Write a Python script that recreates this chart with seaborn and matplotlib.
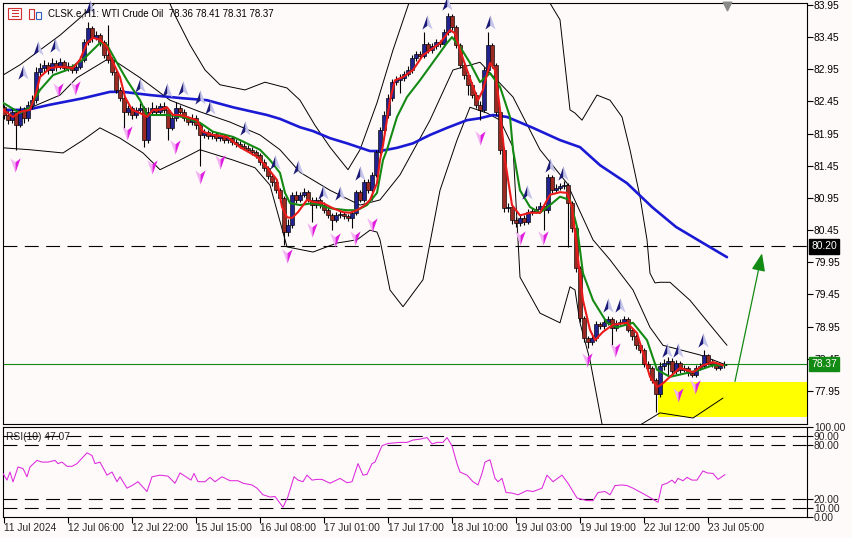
import numpy as np
import pandas as pd
import matplotlib
matplotlib.use("Agg")
import matplotlib.pyplot as plt
import matplotlib.transforms as mtransforms
from matplotlib.patches import Rectangle
from matplotlib.path import Path
import seaborn as sns

sns.set_theme(style="white")
plt.rcParams["font.family"] = ["Liberation Sans", "DejaVu Sans"]

# ---------------- data ----------------
title = "CLSK.e,H1: WTI Crude Oil  78.36 78.41 78.31 78.37"

bar_open = [82.36, 82.24, 82.16, 82.29, 82.08, 82.32, 82.19, 82.40, 82.47, 82.91,
            82.97, 83.02, 82.94, 83.05, 82.99, 83.06, 82.97, 83.00, 82.94, 82.99,
            83.10, 83.37, 83.59, 83.44, 83.48, 83.37, 83.17, 83.10, 82.91, 82.63,
            82.50, 82.29, 82.35, 82.24, 82.32, 82.35, 81.85, 82.29, 82.35, 82.29,
            82.38, 82.32, 82.04, 82.19, 82.35, 82.29, 82.19, 82.13, 82.19, 82.08,
            81.93, 81.98, 81.91, 81.94, 81.88, 81.91, 81.85, 81.88, 81.82, 81.79,
            81.76, 81.73, 81.70, 81.66, 81.62, 81.51, 81.42, 81.29, 81.20, 81.07,
            80.95, 80.42, 80.53, 81.00, 80.92, 81.00, 81.04, 80.92, 80.84, 80.92,
            80.84, 80.76, 80.68, 80.61, 80.68, 80.70, 80.67, 80.64, 80.72, 81.04,
            80.92, 81.20, 81.07, 81.31, 81.66, 82.01, 82.24, 82.50, 82.75, 82.78,
            82.82, 82.88, 82.94, 83.13, 83.19, 83.16, 83.34, 83.25, 83.31, 83.37,
            83.34, 83.53, 83.78, 83.61, 83.33, 83.02, 82.86, 82.71, 82.55, 82.40,
            82.32, 82.94, 83.33, 83.02, 82.29, 81.70, 80.79, 80.81, 80.61, 80.56,
            80.64, 80.58, 80.73, 80.75, 80.78, 80.83, 80.76, 81.28, 81.07, 81.11,
            81.14, 81.15, 80.87, 80.48, 79.86, 79.08, 78.77, 78.71, 78.77, 78.99,
            78.96, 79.02, 79.07, 78.93, 79.01, 79.02, 79.07, 78.90, 78.80, 78.66,
            78.59, 78.37, 78.31, 78.12, 77.90, 78.34, 78.38, 78.42, 78.26, 78.38,
            78.28, 78.31, 78.23, 78.20, 78.31, 78.34, 78.51, 78.40, 78.37, 78.31,
            78.36]
bar_high = [82.40, 82.30, 82.35, 82.33, 82.38, 82.36, 82.45, 82.55, 82.98, 83.05,
            83.10, 83.06, 83.12, 83.09, 83.12, 83.10, 83.06, 83.04, 83.04, 83.15,
            83.42, 83.69, 83.62, 83.54, 83.51, 83.40, 83.64, 83.14, 82.95, 82.68,
            82.54, 82.40, 82.38, 82.37, 82.42, 82.38, 82.36, 82.44, 82.40, 82.43,
            82.44, 82.35, 82.24, 82.44, 82.40, 82.33, 82.23, 82.25, 82.24, 82.12,
            82.03, 82.01, 81.99, 81.98, 81.95, 81.94, 81.92, 81.91, 81.86, 81.83,
            81.80, 81.77, 81.74, 81.70, 81.65, 81.55, 81.45, 81.33, 81.24, 81.10,
            80.98, 80.62, 81.05, 81.06, 81.05, 81.10, 81.07, 80.96, 80.97, 80.95,
            80.88, 80.80, 80.72, 80.73, 80.75, 80.74, 80.70, 80.77, 81.08, 81.08,
            81.24, 81.24, 81.36, 81.70, 82.06, 82.30, 82.56, 82.80, 82.85, 82.88,
            82.93, 83.00, 83.18, 83.24, 83.24, 83.53, 83.38, 83.36, 83.42, 83.41,
            83.58, 83.83, 83.81, 83.64, 83.36, 83.06, 82.90, 82.75, 82.59, 82.45,
            82.98, 83.53, 83.36, 83.05, 82.32, 81.74, 80.87, 80.84, 80.65, 80.69,
            80.68, 80.78, 80.80, 80.83, 80.88, 80.86, 81.33, 81.31, 81.16, 81.19,
            81.21, 81.18, 80.90, 80.51, 79.89, 79.11, 78.81, 78.82, 79.04, 79.03,
            79.07, 79.12, 79.10, 79.06, 79.07, 79.12, 79.10, 78.93, 78.83, 78.70,
            78.62, 78.41, 78.34, 78.15, 78.40, 78.45, 78.48, 78.46, 78.43, 78.41,
            78.36, 78.34, 78.26, 78.35, 78.39, 78.59, 78.53, 78.44, 78.40, 78.39,
            78.41]
bar_low = [82.18, 82.10, 82.12, 81.70, 82.05, 82.12, 82.15, 82.33, 82.42, 82.85,
           82.90, 82.88, 82.90, 82.93, 82.95, 82.92, 82.92, 82.89, 82.90, 82.96,
           83.06, 83.33, 83.38, 83.40, 83.32, 83.12, 83.05, 82.86, 82.58, 82.45,
           82.01, 82.24, 82.18, 82.20, 82.27, 81.75, 81.80, 82.25, 82.24, 82.25,
           82.27, 81.85, 82.00, 82.15, 82.24, 82.15, 82.08, 82.09, 82.03, 81.45,
           81.88, 81.86, 81.87, 81.84, 81.84, 81.80, 81.81, 81.78, 81.75, 81.72,
           81.69, 81.66, 81.62, 81.57, 81.46, 81.37, 81.24, 81.14, 81.02, 80.88,
           80.22, 80.36, 80.48, 80.87, 80.88, 80.96, 80.88, 80.58, 80.80, 80.80,
           80.72, 80.64, 80.45, 80.57, 80.64, 80.62, 80.59, 80.48, 80.68, 80.88,
           80.88, 81.02, 80.92, 81.27, 81.62, 81.96, 82.20, 82.46, 82.70, 82.58,
           82.77, 82.84, 82.90, 83.08, 83.11, 83.12, 83.20, 83.21, 83.27, 83.29,
           83.30, 83.49, 83.56, 83.28, 82.97, 82.80, 82.55, 82.50, 82.35, 82.16,
           82.28, 82.90, 82.97, 82.24, 81.64, 80.74, 80.74, 80.55, 80.50, 80.52,
           80.53, 80.55, 80.69, 80.71, 80.74, 80.45, 80.72, 81.02, 81.03, 81.07,
           81.09, 80.19, 80.42, 79.80, 79.02, 78.71, 78.62, 78.66, 78.73, 78.91,
           78.92, 78.98, 78.66, 78.89, 78.97, 78.98, 78.86, 78.75, 78.61, 78.54,
           78.32, 78.26, 78.07, 77.62, 77.86, 78.28, 78.20, 78.21, 78.22, 78.23,
           78.24, 78.19, 78.16, 78.17, 78.27, 78.30, 78.36, 78.33, 78.27, 78.28,
           78.31]
bar_close = [82.24, 82.16, 82.29, 82.08, 82.32, 82.19, 82.40, 82.47, 82.91, 82.97,
             83.02, 82.94, 83.05, 82.99, 83.06, 82.97, 83.00, 82.94, 82.99, 83.10,
             83.37, 83.59, 83.44, 83.48, 83.37, 83.17, 83.10, 82.91, 82.63, 82.50,
             82.29, 82.35, 82.24, 82.32, 82.35, 81.85, 82.29, 82.35, 82.29, 82.38,
             82.32, 82.04, 82.19, 82.35, 82.29, 82.19, 82.13, 82.19, 82.08, 81.93,
             81.98, 81.91, 81.94, 81.88, 81.91, 81.85, 81.88, 81.82, 81.79, 81.76,
             81.73, 81.70, 81.66, 81.62, 81.51, 81.42, 81.29, 81.20, 81.07, 80.95,
             80.42, 80.53, 81.00, 80.92, 81.00, 81.04, 80.92, 80.84, 80.92, 80.84,
             80.76, 80.68, 80.61, 80.68, 80.70, 80.67, 80.64, 80.72, 81.04, 80.92,
             81.20, 81.07, 81.31, 81.66, 82.01, 82.24, 82.50, 82.75, 82.78, 82.82,
             82.88, 82.94, 83.13, 83.19, 83.16, 83.34, 83.25, 83.31, 83.37, 83.34,
             83.53, 83.78, 83.61, 83.33, 83.02, 82.86, 82.71, 82.55, 82.40, 82.32,
             82.94, 83.33, 83.02, 82.29, 81.70, 80.79, 80.81, 80.61, 80.56, 80.64,
             80.58, 80.73, 80.75, 80.78, 80.83, 80.76, 81.28, 81.07, 81.11, 81.14,
             81.15, 80.87, 80.48, 79.86, 79.08, 78.77, 78.71, 78.77, 78.99, 78.96,
             79.02, 79.07, 78.93, 79.01, 79.02, 79.07, 78.90, 78.80, 78.66, 78.59,
             78.37, 78.31, 78.12, 77.90, 78.34, 78.38, 78.42, 78.26, 78.38, 78.28,
             78.31, 78.23, 78.20, 78.31, 78.34, 78.51, 78.40, 78.37, 78.31, 78.34,
             78.37]

# fast (red) moving average, sampled along the bars
fast_ma_bar = [-0.25, 2.25, 4, 6.5, 8, 9, 11.5, 14, 17.25, 19, 20.75, 22.25, 24, 25.75, 27.25,
               29, 30.25, 32, 34, 35.75, 37.25, 39, 40.75, 42.25, 44, 45.75, 48.25, 49.75,
               52.25, 55.75, 59, 63.25, 65.75, 68.25, 69.5, 70.75, 72, 73.5, 75.75, 77.25,
               79.75, 82.25, 84.75, 86.5, 88.25, 90.25, 91.5, 93.25, 94, 94.75, 96.5, 97.75,
               99.75, 102.25, 104.75, 107.25, 109, 111.5, 112.75, 114, 115.75, 117.25,
               118.5, 119.75, 121.5, 122.75, 124, 125.25, 127, 129, 131.5, 134, 136.5,
               139, 140.75, 142, 143.25, 144.75, 146.5, 147.75, 149.75, 152.25, 155.75,
               158.25, 159.75, 161.5, 163.25, 164.75, 166.5, 169, 172.25, 174.75, 177.25,
               179.75]
fast_ma_val = [82.32, 82.21, 82.29, 82.32, 82.58, 82.83, 82.97, 82.99, 82.97, 83.10, 83.36,
               83.44, 83.41, 83.30, 83.06, 82.83, 82.52, 82.32, 82.27, 82.21, 82.32, 82.32,
               82.36, 82.24, 82.24, 82.21, 82.16, 81.98, 81.93, 81.90, 81.74, 81.59, 81.43,
               81.23, 80.81, 80.65, 80.64, 80.73, 80.92, 80.89, 80.87, 80.79, 80.73, 80.72,
               80.76, 80.84, 80.92, 81.18, 81.54, 81.77, 82.47, 82.78, 82.83, 82.94, 83.17,
               83.28, 83.36, 83.56, 83.51, 83.25, 82.94, 82.68, 82.47, 82.63, 83.05, 82.94,
               82.32, 81.54, 80.84, 80.68, 80.72, 80.72, 81.00, 81.04, 81.03, 80.81, 80.14,
               79.36, 78.90, 78.74, 78.87, 78.98, 79.01, 78.85, 78.54, 78.17, 78.01, 78.07,
               78.17, 78.31, 78.24, 78.35, 78.40, 78.35]

# slow (green) moving average
slow_ma_bar = [-0.25, 4, 6.5, 9, 12.25, 15.75, 19.75, 24, 25.75, 28.25, 30.75, 34, 35.75,
               40.75, 44.75, 49, 52.25, 57.25, 59, 64, 66.5, 69, 70.25, 71.5, 74, 77.25,
               81.5, 85.75, 88.25, 90.75, 93.25, 94.75, 95.75, 98.25, 100.75, 104, 107.25,
               110.75, 112, 114, 116.5, 119, 121.5, 124, 126.5, 127.25, 129, 131.5, 134,
               136.5, 139, 141.5, 143.25, 144.75, 147.25, 150.75, 153.25, 157.25, 160.75,
               163.25, 166.5, 170.75, 174, 177.25, 180.25]
slow_ma_val = [82.43, 82.27, 82.36, 82.63, 82.86, 82.94, 83.10, 83.36, 83.33, 83.05, 82.78,
               82.47, 82.24, 82.24, 82.21, 82.12, 81.98, 81.90, 81.85, 81.70, 81.54, 81.34,
               81.03, 80.87, 80.84, 80.87, 80.79, 80.76, 80.76, 80.84, 81.03, 81.54, 81.70,
               82.21, 82.52, 82.78, 83.06, 83.36, 83.45, 83.30, 83.05, 82.75, 82.89, 82.68,
               82.21, 81.70, 81.07, 80.81, 80.72, 80.84, 80.97, 80.92, 80.50, 79.78, 79.36,
               79.01, 78.94, 79.01, 78.74, 78.28, 78.17, 78.23, 78.28, 78.35, 78.35]

# long (blue) moving average
long_ma_bar = [-0.25, 5.75, 11.5, 19.75, 26.5, 29.75, 36.5, 44.75, 50.75, 57.25, 65.75, 69,
               74, 77.25, 81.5, 85.75, 91.5, 94, 98.25, 102.25, 106.5, 110.75, 115.75, 119,
               122.25, 125.75, 132.25, 139, 144, 149, 155.75, 162, 168, 174.75, 180.75]
long_ma_val = [82.32, 82.32, 82.40, 82.50, 82.60, 82.60, 82.55, 82.50, 82.47, 82.36, 82.24,
               82.18, 82.05, 81.99, 81.88, 81.80, 81.68, 81.68, 81.73, 81.80, 81.93, 82.04,
               82.16, 82.19, 82.24, 82.21, 82.04, 81.85, 81.74, 81.46, 81.18, 80.81, 80.50,
               80.25, 80.03]

# Bollinger bands (upper / middle / lower)
bb_up_bar = [-0.25, 4, 9, 14, 19, 22.75, 24.5, 31.5, 40.25, 42.75, 46.5, 50.25, 54, 60.25,
             65.25, 70.75, 74, 77.75, 81.5, 86, 89, 93.25, 97.25, 101.5, 106.5, 124, 134,
             136, 139, 141.5, 142.75, 144.5, 148.25, 151.5, 154.5, 156.5, 159, 160.75,
             161.5, 162.75, 164, 166.5, 171.5, 176.5, 180.75]
bb_up_val = [82.86, 83.02, 83.25, 83.48, 83.75, 83.98, 84.15, 84.50, 84.15, 83.79, 83.33,
             82.94, 82.71, 82.63, 82.75, 82.66, 82.47, 82.08, 81.74, 81.39, 81.70, 82.43,
             83.25, 84.03, 84.65, 84.97, 84.18, 84.03, 83.72, 82.32, 82.27, 82.16, 82.55,
             82.47, 82.21, 81.70, 80.97, 80.30, 79.78, 79.63, 79.64, 79.64, 79.36, 78.98,
             78.66]
bb_mid_bar = [-0.25, 6.5, 14, 18.25, 26.5, 34, 41.5, 49, 56.5, 64, 69, 74, 81.5, 89, 94, 99,
              106.5, 112.25, 119, 127.25, 134, 140.75, 147.25, 151.5, 157.25, 161.5,
              164.75, 174, 180.75]
bb_mid_val = [82.29, 82.35, 82.55, 82.82, 83.13, 82.82, 82.47, 82.29, 82.13, 81.93, 81.70,
              81.35, 81.07, 80.84, 80.92, 81.31, 82.16, 82.94, 83.06, 82.52, 81.70, 81.18,
              80.30, 79.99, 79.52, 78.94, 78.66, 78.51, 78.35]
bb_low_bar = [-0.25, 6.5, 14.75, 19.75, 24, 29, 34.75, 39, 44, 49, 57.25, 62.75, 66.5, 70.75,
              77.25, 83.25, 88.25, 91.5, 93.25, 94, 96.5, 99.75, 104.75, 109, 113.25, 116.5,
              120.75, 124, 127.25, 129, 134, 139, 141.5, 142.75, 144, 146.5, 150.25, 157.75,
              159, 164, 172.25, 179.75]
bb_low_val = [81.73, 81.70, 81.65, 81.85, 82.04, 81.88, 81.65, 81.39, 81.54, 81.70, 81.54,
              81.42, 81.15, 80.19, 80.11, 80.25, 80.30, 80.45, 80.42, 80.30, 79.52, 79.26,
              79.68, 81.07, 81.85, 82.36, 82.27, 82.16, 81.74, 79.72, 79.16, 79.01, 79.57,
              79.52, 79.01, 78.43, 77.19, 77.19, 77.42, 77.61, 77.53, 77.84]

# fractal arrows
up_arrow_bar = [4.75, 8.5, 12.75, 21.5, 34, 40.75, 44.75, 49, 51.5, 60.25, 67.75, 73.5, 79.75,
                84, 89, 105.75, 110.75, 121.5, 130.75, 136.5, 139.75, 151, 154, 165.75,
                168.5, 174.75]
up_arrow_val = [82.91, 83.28, 83.33, 83.92, 82.71, 82.63, 82.66, 82.52, 82.36, 82.04, 81.51,
                81.43, 81.04, 81.03, 81.34, 83.69, 83.98, 83.69, 81.04, 81.46, 81.34, 79.29,
                79.29, 78.59, 78.59, 78.74]
down_arrow_bar = [2.75, 13.5, 17.75, 30.75, 37, 42.75, 49, 54, 70.75, 77, 82.75, 87.75, 92,
                  119, 129, 134.75, 145.75, 152.75, 168.5, 172.75]
down_arrow_val = [81.46, 82.63, 82.66, 81.96, 81.43, 81.74, 81.28, 81.51, 80.05, 80.45, 80.30,
                  80.33, 80.53, 81.88, 80.33, 80.33, 78.43, 78.59, 77.89, 78.01]

# RSI(10)
rsi_bar = [-0.25, 0.75, 1.5, 2.25, 3.5, 4.75, 5.75, 6.5, 8.25, 9.5, 11, 12.75, 13.5, 14.5,
           15.75, 17, 18.25, 20.75, 22, 22.75, 24, 25.75, 27, 28.25, 29, 30.75, 32.25, 33.5,
           35.75, 37, 39, 41, 42.75, 44, 46.75, 47.5, 48.5, 50.25, 51.5, 52.75, 54.5, 56.5,
           58.5, 59.75, 62, 63.25, 64.75, 66.5, 67.75, 69.75, 71, 72.5, 73.5, 74.75, 75.75,
           77, 78.25, 79.5, 81.5, 84, 85.75, 87, 88.5, 89.75, 90.75, 92, 92.75, 94.5, 96, 99,
           100.75, 102.25, 104, 105.75, 107, 108.25, 109.75, 110.75, 112, 113.25, 114,
           115.75, 117.25, 118.5, 119.5, 120.25, 121.5, 122.75, 123.5, 124.5, 125.5, 127,
           128.5, 130.75, 132.25, 134.5, 135.75, 137.25, 139.5, 141, 143.25, 145.75,
           147.25, 148.5, 150.25, 151.5, 152.75, 154.5, 155.75, 157.25, 160.75, 163.5,
           164.5, 165.75, 167, 167.75, 168.5, 169.75, 170.75, 172, 173.25, 174.75, 175.75,
           177.25, 178.5, 180.25]
rsi_val = [48.4, 41.0, 50.0, 39.0, 55.6, 53.8, 44.7, 55.6, 62.9, 61.0, 61.0, 62.9, 59.3, 61.0,
           56.3, 56.3, 59.3, 71.3, 68.3, 59.3, 61.0, 46.5, 50.0, 39.2, 44.7, 32.0, 35.6, 39.2,
           28.3, 44.7, 46.5, 45.4, 37.5, 49.0, 41.0, 48.4, 39.2, 39.2, 44.0, 39.2, 44.7, 40.3,
           40.3, 37.5, 35.6, 32.0, 24.7, 22.2, 22.8, 10.8, 22.8, 44.7, 41.0, 39.2, 46.5,
           41.0, 41.8, 41.8, 37.5, 42.9, 38.1, 39.2, 59.3, 46.5, 47.3, 59.3, 61.0, 79.2,
           81.7, 82.9, 82.9, 85.5, 86.5, 88.3, 81.1, 82.9, 82.9, 88.3, 79.2, 59.3, 50.0,
           46.5, 39.2, 35.6, 48.4, 61.0, 63.6, 42.9, 39.2, 42.9, 27.2, 26.6, 24.7, 29.4,
           28.3, 32.0, 46.5, 39.2, 46.5, 37.5, 21.1, 18.2, 18.2, 27.2, 28.3, 24.7, 34.9,
           35.6, 34.9, 32.0, 23.6, 16.3, 35.6, 37.5, 41.0, 37.5, 42.9, 40.3, 44.0, 41.0,
           41.0, 51.2, 49.0, 48.4, 41.8, 47.07]
rsi_levels = [90, 80, 20, 10]
rsi_ticks = [100, 90, 80, 20, 10, 0]

price_ticks = [83.95, 83.45, 82.95, 82.45, 81.95, 81.45, 80.95, 80.45, 79.95, 79.45, 78.95,
               78.45, 77.95]
target_level = 80.20
last_price = 78.37
zone_start_bar, zone_low, zone_high = 163.5, 77.54, 78.09
arrow_from = (182.75, 78.10)
arrow_to = (189.5, 80.09)
shift_bar = 180.75

time_label_bars = [0, 16, 32, 48, 64, 80, 96, 112, 128, 144, 160, 176]
time_labels = ["11 Jul 2024", "12 Jul 06:00", "12 Jul 22:00", "15 Jul 15:00", "16 Jul 08:00",
               "17 Jul 01:00", "17 Jul 17:00", "18 Jul 10:00", "19 Jul 03:00",
               "19 Jul 19:00", "22 Jul 12:00", "23 Jul 05:00"]

# ---------------- styling ----------------
BG = "#fffafa"
BULL = "#23238f"
BEAR = "#9a2a22"
FS = 7.4
W, H = 853, 538

fig = plt.figure(figsize=(W / 100, H / 100), dpi=100, facecolor=BG)
ax = fig.add_axes([3 / W, 1 - 424 / H, 804 / W, 421 / H], facecolor=BG)
axr = fig.add_axes([3 / W, 1 - 517 / H, 804 / W, 90 / H], facecolor=BG)

for a in (ax, axr):
    a.set_xlim(-0.25, 200.75)
    for s in a.spines.values():
        s.set_color("black")
        s.set_linewidth(0.8)
    a.grid(False)
    a.set_xticks([])

ax.set_ylim(77.437, 83.981)
axr.set_ylim(0, 100)

# ---------------- main panel ----------------
ax.add_patch(Rectangle((zone_start_bar, zone_low), 60, zone_high - zone_low,
                       facecolor="#ffff00", edgecolor="none", zorder=1))

for xs, ys in [(bb_up_bar, bb_up_val), (bb_mid_bar, bb_mid_val), (bb_low_bar, bb_low_val)]:
    sns.lineplot(x=xs, y=ys, ax=ax, color="black", lw=0.7, estimator=None, sort=False, zorder=2)

sns.lineplot(x=long_ma_bar, y=long_ma_val, ax=ax, color="#1a1ad4", lw=1.9,
             estimator=None, sort=False, zorder=3)

candles = pd.DataFrame({"bar": np.arange(len(bar_close)), "open": bar_open,
                        "high": bar_high, "low": bar_low, "close": bar_close})
rising = candles["close"] >= candles["open"]
ax.vlines(candles["bar"], candles["low"], candles["high"], color="black", lw=0.8, zorder=4)
ax.bar(candles["bar"], (candles["close"] - candles["open"]).abs().clip(lower=0.015),
       bottom=candles[["open", "close"]].min(axis=1), width=0.78,
       color=np.where(rising, BULL, BEAR), edgecolor="black", linewidth=0.45, zorder=5)

sns.lineplot(x=slow_ma_bar, y=slow_ma_val, ax=ax, color="#138a13", lw=1.5,
             estimator=None, sort=False, zorder=6)
sns.lineplot(x=fast_ma_bar, y=fast_ma_val, ax=ax, color="#ea1a1a", lw=1.5,
             estimator=None, sort=False, zorder=7)

# two-tone arrow markers
up_l = Path([(0, 1), (-0.72, -1), (0, -0.45), (0, 1)])
up_r = Path([(0, 1), (0.72, -1), (0, -0.45), (0, 1)])
dn_l = Path([(0, -1), (-0.72, 1), (0, 0.45), (0, -1)])
dn_r = Path([(0, -1), (0.72, 1), (0, 0.45), (0, -1)])
AS = 105
ax.scatter(up_arrow_bar, up_arrow_val, marker=up_l, s=AS, color="#1c1c78", lw=0, zorder=8, clip_on=False)
ax.scatter(up_arrow_bar, up_arrow_val, marker=up_r, s=AS, color="#c4c4ea", lw=0, zorder=8, clip_on=False)
ax.scatter(down_arrow_bar, down_arrow_val, marker=dn_l, s=AS, color="#f4b2f4", lw=0, zorder=8)
ax.scatter(down_arrow_bar, down_arrow_val, marker=dn_r, s=AS, color="#e01ee0", lw=0, zorder=8)

ax.axhline(target_level, color="black", lw=0.8, ls=(0, (12.5, 6.7)), zorder=2)
ax.axhline(last_price, color="#138a13", lw=0.8, zorder=2)

ax.annotate("", xy=arrow_to, xytext=arrow_from,
            arrowprops=dict(arrowstyle="-|>,head_length=0.9,head_width=0.35",
                            color="#138a13", lw=0.9, shrinkA=0, shrinkB=0), zorder=9)

ax.scatter([shift_bar], [83.93], marker="v", s=38, color="#8a8a8a", zorder=9, clip_on=False)

ax.yaxis.tick_right()
ax.set_yticks(price_ticks)
ax.set_yticklabels([f"{v:.2f}" for v in price_ticks])
ax.tick_params(axis="y", length=4, width=0.8, color="black", pad=1, labelsize=FS,
               labelcolor="black", right=True, left=False)

trans = mtransforms.blended_transform_factory(ax.transAxes, ax.transData)
ax.text(1.005, target_level, f"{target_level:.2f}", transform=trans, ha="left", va="center",
        fontsize=FS, color="white", zorder=20, clip_on=False,
        bbox=dict(boxstyle="square,pad=0.22", fc="black", ec="black"))
ax.text(1.005, last_price, f"{last_price:.2f}", transform=trans, ha="left", va="center",
        fontsize=FS, color="white", zorder=20, clip_on=False,
        bbox=dict(boxstyle="square,pad=0.22", fc="#138a13", ec="#138a13"))

# title and icons
fig.text(48 / W, 1 - 13.5 / H, title, fontsize=7.0, color="black", va="center", ha="left")
fig.patches.append(Rectangle((8 / W, 1 - 19 / H), 13 / W, 11 / H, transform=fig.transFigure,
                             fill=False, ec="#d03030", lw=0.8))
for k in range(3):
    fig.patches.append(Rectangle((12 / W, 1 - (11 + 3 * k) / H), 7 / W, 0.8 / H,
                                 transform=fig.transFigure, fc="#d03030", ec="none"))
fig.patches.append(Rectangle((29 / W, 1 - 19 / H), 5 / W, 10 / H, transform=fig.transFigure,
                             fill=False, ec="#d03030", lw=0.8))
fig.patches.append(Rectangle((36 / W, 1 - 19 / H), 5 / W, 7 / H, transform=fig.transFigure,
                             fill=False, ec="#3060c0", lw=0.8))

# ---------------- RSI panel ----------------
for lv in rsi_levels:
    axr.axhline(lv, color="black", lw=0.8, ls=(0, (12.5, 6.7)), zorder=2)
sns.lineplot(x=rsi_bar, y=rsi_val, ax=axr, color="#dd28dd", lw=0.75,
             estimator=None, sort=False, zorder=3)
axr.text(0.004, 89, f"RSI(10) {rsi_val[-1]:.2f}", transform=mtransforms.blended_transform_factory(
    axr.transAxes, axr.transData), fontsize=FS, va="center", ha="left", zorder=1)

axr.yaxis.tick_right()
axr.set_yticks(rsi_ticks)
axr.set_yticklabels([f"{v:.2f}" for v in rsi_ticks])
axr.tick_params(axis="y", length=4, width=0.8, color="black", pad=1, labelsize=FS,
                right=True, left=False)

axr.set_xticks(time_label_bars)
axr.set_xticklabels([])
axr.tick_params(axis="x", length=4, width=0.8, color="black", bottom=True, direction="out")
tb = mtransforms.blended_transform_factory(axr.transData, axr.transAxes)
for b, lab in zip(time_label_bars, time_labels):
    axr.text(b, -0.065, lab, transform=tb, fontsize=FS, ha="left", va="top", clip_on=False)

fig.savefig("out.png", dpi=100, facecolor=BG)
